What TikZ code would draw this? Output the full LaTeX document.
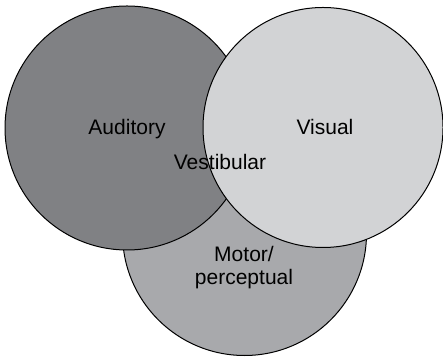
\documentclass[tikz,border=0pt]{standalone}
\usepackage{fontspec}
\setmainfont{Liberation Sans}
\definecolor{cus-dark}{RGB}{128,129,132}
\definecolor{cus-mid}{RGB}{168,169,172}
\definecolor{cus-light}{RGB}{210,211,213}
\tikzset{
	sense/.style={draw=black, line width=0.5pt},
	senselabel/.style={font=\fontsize{10.5}{12}\selectfont, inner sep=0pt, anchor=base, align=center}
}
\begin{document}
\begin{tikzpicture}[x=0.5pt, y=0.5pt]
\useasboundingbox (0,0) rectangle (443,358);
% circles, bottom one first
\filldraw [sense, fill=cus-mid] (244.5,124.5) circle (122);
\filldraw [sense, fill=cus-dark] (127,230) circle (122);
\filldraw [sense, fill=cus-light] (323,230.5) circle (120);
% labels
\node [senselabel] (auditory) at (127,223) {Auditory};
\node [senselabel] (visual) at (325,223) {Visual};
\node [senselabel] (vestibular) at (220,188) {Vestibular};
\node [senselabel] (motor) at (244,73) {Motor/\\perceptual};
\end{tikzpicture}
\end{document}
